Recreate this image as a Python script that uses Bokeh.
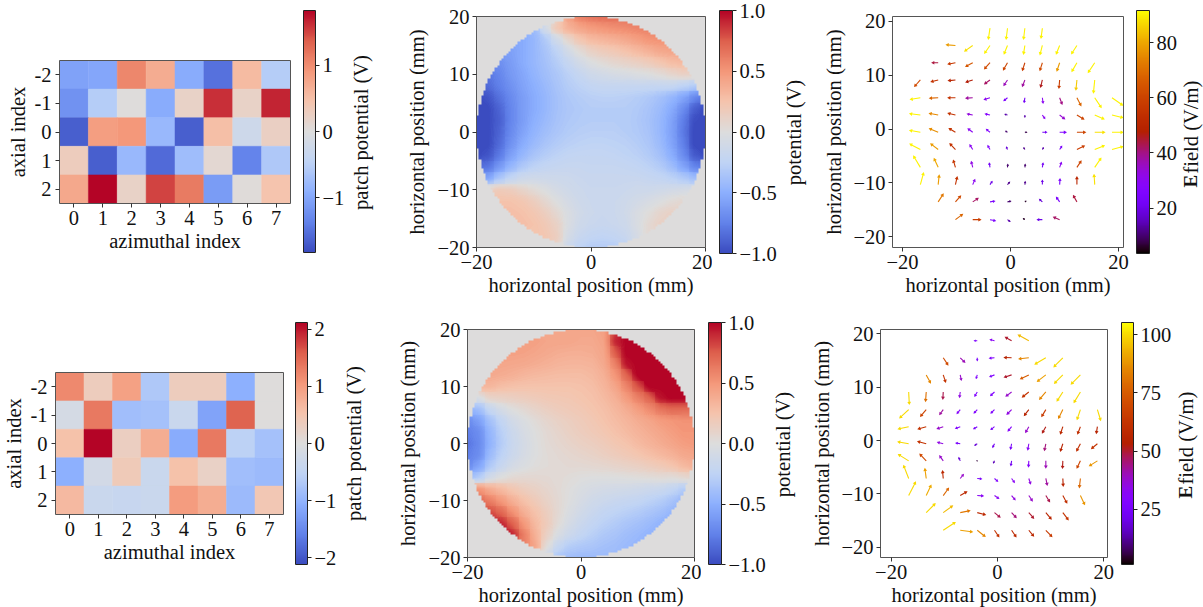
import math
import numpy as np
from bokeh.embed import file_html
from bokeh.resources import INLINE
from bokeh.models import (ColumnDataSource, FixedTicker, Label, LinearAxis, LinearColorMapper, Range1d)
from bokeh.plotting import figure
from bokeh.transform import transform

AZIMUTHAL = [0, 1, 2, 3, 4, 5, 6, 7]
AXIAL = [-2, -1, 0, 1, 2]

PATCH_TOP = [
    [-1.05, -1.0, 1.05, 0.7, -0.95, -1.5, 0.55, -0.55],
    [-1.2, -0.55, 0.02, -0.95, 0.2, 1.6, 0.2, 1.65],
    [-1.65, 0.85, 0.9, -0.8, -1.65, 0.5, -0.25, 0.25],
    [0.3, -1.65, -0.8, -1.55, -0.75, 0.1, -1.35, -0.6],
    [0.75, 1.82, 0.2, 1.5, 1.15, -1.1, 0.03, 0.45],
]
PATCH_BOTTOM = [
    [1.2, 0.35, 0.95, -0.7, 0.35, 0.35, -1.05, 0.03],
    [-0.15, 1.35, -0.85, -0.8, -0.35, -1.2, 1.55, 0.03],
    [0.55, 2.12, 0.3, 0.8, -1.1, 1.35, -0.55, -0.8],
    [-1.05, -0.2, 0.4, -0.35, 0.55, 0.25, -0.85, -0.9],
    [0.65, -0.35, -0.4, -0.35, 1.0, 0.8, -0.9, 0.45],
]

# potential at 2 mm spacing, rows from y=+20 down to y=-20
POT_STEP = 2
POT_GRID = list(range(-20, 21, POT_STEP))
POTENTIAL_TOP = [
    [-.3,-.3,-.3,-.3,-.3,-.3,-.2,.1,.45,.6,.65,.68,.68,.68,.65,.6,.55,.5,.5,.5,.5],
    [-.5,-.5,-.5,-.5,-.5,-.42,-.1,.2,.35,.42,.47,.5,.53,.55,.58,.6,.6,.6,.6,.6,.6],
    [-.55,-.55,-.55,-.55,-.52,-.45,-.32,-.12,.08,.22,.3,.33,.36,.4,.45,.5,.52,.52,.52,.5,.5],
    [-.6,-.6,-.6,-.58,-.52,-.45,-.36,-.25,-.1,.03,.12,.17,.2,.25,.3,.35,.4,.42,.42,.4,.4],
    [-.7,-.7,-.68,-.6,-.52,-.45,-.38,-.3,-.2,-.1,-.02,.03,.07,.1,.13,.17,.22,.28,.3,.3,.3],
    [-.8,-.8,-.72,-.62,-.55,-.47,-.4,-.34,-.27,-.2,-.13,-.1,-.07,-.05,-.03,-.01,.03,.08,.12,.1,.1],
    [-.9,-.85,-.75,-.66,-.57,-.5,-.43,-.36,-.3,-.26,-.22,-.2,-.2,-.2,-.2,-.2,-.2,-.2,-.25,-.3,-.4],
    [-1,-.95,-.82,-.7,-.6,-.52,-.45,-.38,-.33,-.3,-.28,-.27,-.27,-.28,-.3,-.33,-.38,-.45,-.55,-.7,-.85],
    [-1,-1,-.88,-.72,-.6,-.52,-.45,-.38,-.34,-.32,-.3,-.3,-.3,-.3,-.32,-.36,-.42,-.52,-.68,-.9,-1],
    [-1,-1,-.9,-.72,-.6,-.5,-.43,-.37,-.33,-.31,-.3,-.3,-.3,-.3,-.33,-.37,-.44,-.56,-.75,-.98,-1],
    [-1,-1,-.88,-.7,-.57,-.47,-.4,-.35,-.31,-.29,-.28,-.28,-.28,-.3,-.32,-.36,-.44,-.57,-.77,-1,-1],
    [-1,-1,-.85,-.66,-.52,-.43,-.36,-.31,-.28,-.26,-.25,-.25,-.26,-.27,-.3,-.34,-.42,-.55,-.74,-1,-1],
    [-1,-.95,-.78,-.58,-.45,-.36,-.3,-.26,-.23,-.22,-.22,-.22,-.23,-.25,-.27,-.31,-.38,-.5,-.68,-.92,-1],
    [-.85,-.8,-.62,-.45,-.33,-.26,-.22,-.2,-.19,-.19,-.2,-.2,-.2,-.21,-.23,-.26,-.31,-.4,-.55,-.72,-.8],
    [-.6,-.55,-.35,-.22,-.14,-.12,-.13,-.14,-.15,-.17,-.18,-.18,-.18,-.18,-.18,-.2,-.22,-.26,-.32,-.4,-.4],
    [.1,.1,.18,.16,.1,.04,-.02,-.08,-.12,-.15,-.17,-.17,-.17,-.16,-.14,-.14,-.12,-.1,-.08,-.06,-.05],
    [.25,.25,.25,.25,.22,.16,.07,-.01,-.08,-.13,-.16,-.17,-.16,-.13,-.1,-.06,-.02,.03,.06,.06,.06],
    [.3,.3,.3,.28,.26,.22,.15,.06,-.04,-.11,-.15,-.17,-.16,-.12,-.05,.01,.08,.12,.12,.12,.12],
    [.3,.3,.3,.3,.28,.25,.2,.12,-.04,-.13,-.17,-.18,-.17,-.14,-.05,.05,.12,.12,.12,.12,.12],
    [.25,.25,.25,.25,.25,.25,.22,.15,-.08,-.18,-.22,-.24,-.22,-.18,-.08,.05,.1,.1,.1,.1,.1],
    [.2,.2,.2,.2,.2,.2,.2,.1,-.15,-.25,-.3,-.3,-.3,-.25,-.1,.05,.1,.1,.1,.1,.1],
]
POTENTIAL_BOTTOM = [
    [.4,.4,.4,.4,.4,.4,.4,.4,.42,.42,.42,.42,.45,.8,1,1,1,1,1,1,1],
    [.45,.45,.45,.45,.45,.46,.45,.42,.42,.42,.4,.4,.44,.9,1,1,1,1,1,1,1],
    [.45,.45,.45,.45,.45,.44,.42,.4,.38,.37,.37,.38,.42,.75,1,1,1,1,1,1,1],
    [.42,.42,.42,.42,.41,.4,.38,.36,.34,.33,.33,.34,.4,.6,.95,1,1,1,1,1,1],
    [.4,.4,.4,.38,.36,.33,.31,.3,.29,.29,.29,.31,.36,.5,.72,1,1,1,1,1,1],
    [.3,.32,.32,.28,.26,.25,.25,.25,.25,.25,.26,.28,.33,.42,.58,.78,1,1,1,1,1],
    [-.1,-.05,.1,.12,.14,.16,.18,.2,.21,.22,.24,.26,.3,.36,.47,.6,.72,.95,1,1,1],
    [-.5,-.4,-.2,-.08,0,.05,.1,.14,.17,.19,.21,.24,.27,.32,.38,.46,.55,.65,.7,.7,.7],
    [-.7,-.58,-.38,-.22,-.1,-.03,.03,.08,.12,.15,.18,.21,.25,.29,.33,.38,.42,.47,.5,.52,.52],
    [-.75,-.68,-.45,-.28,-.15,-.06,0,.05,.09,.13,.16,.19,.22,.26,.3,.34,.38,.42,.46,.5,.5],
    [-.8,-.7,-.47,-.3,-.17,-.08,-.01,.04,.07,.1,.13,.15,.18,.22,.25,.3,.34,.38,.42,.46,.48],
    [-.75,-.68,-.42,-.26,-.15,-.07,-.01,.03,.05,.07,.09,.11,.14,.17,.2,.23,.27,.31,.35,.4,.42],
    [-.7,-.55,-.32,-.18,-.08,-.03,.01,.03,.04,.05,.05,.06,.07,.09,.11,.13,.16,.19,.23,.3,.35],
    [-.45,-.3,-.1,0,.05,.06,.06,.05,.04,.02,0,-.01,-.01,-.01,0,.01,.02,.03,.02,.05,.1],
    [.5,.5,.38,.3,.22,.16,.12,.08,.04,0,-.04,-.07,-.09,-.1,-.11,-.13,-.15,-.17,-.22,-.3,-.3],
    [.7,.7,.6,.48,.36,.26,.18,.11,.05,-.01,-.07,-.12,-.15,-.18,-.2,-.22,-.26,-.3,-.36,-.45,-.45],
    [.8,.8,.8,.7,.52,.36,.25,.15,.05,-.04,-.11,-.17,-.22,-.25,-.28,-.31,-.35,-.39,-.45,-.5,-.5],
    [.9,.9,.9,.9,.72,.48,.3,.17,.03,-.08,-.16,-.22,-.27,-.31,-.35,-.38,-.42,-.47,-.5,-.5,-.5],
    [.9,.9,.9,.9,.9,.6,.35,.12,-.05,-.15,-.22,-.28,-.33,-.36,-.4,-.43,-.47,-.5,-.5,-.5,-.5],
    [.7,.7,.7,.7,.7,.6,.4,.02,-.2,-.3,-.33,-.35,-.38,-.4,-.43,-.46,-.5,-.5,-.5,-.5,-.5],
    [.5,.5,.5,.5,.5,.4,.2,-.2,-.35,-.4,-.42,-.42,-.42,-.42,-.45,-.48,-.5,-.5,-.5,-.5,-.5],
]

# arrow tails lie on this grid (mm)
ARROW_X = [-19.9, -16.7, -13.4, -10.2, -7.0, -3.8, -0.56, 2.66, 5.9, 9.1, 12.3, 15.6, 18.8]
ARROW_Y = [18.7, 15.5, 12.3, 9.1, 5.8, 2.6, -0.6, -3.8, -7.1, -10.3, -13.5, -16.8]
ARROW_UNIT_MM = 1 / 16  # u and v below are in this unit
# each row: (column in ARROW_X, u, v, |E| in V/m)
ARROWS_TOP = [
    [(5,-5,-33,90),(6,-4,-33,90),(7,-4,-33,90),(8,-4,-30,90)],
    [(3,-27,2,78),(4,-24,-17,88),(5,-16,-23,90),(6,-10,-25,90),(7,-4,-25,90),(8,-7,-27,90),(9,-10,-25,90),(10,-16,-25,90)],
    [(2,-17,0,44),(3,-21,-4,57),(4,-20,-11,65),(5,-16,-18,62),(6,-12,-21,60),(7,-7,-22,58),(8,-7,-22,62),(9,-8,-24,78),(10,-15,-26,90),(11,-20,-30,90)],
    [(1,-17,-19,62),(2,-20,-5,55),(3,-20,-2,50),(4,-19,-6,47),(5,-15,-11,42),(6,-10,-15,36),(7,-7,-18,38),(8,-5,-20,46),(9,-2,-24,58),(10,-3,-30,85),(11,-4,-40,90)],
    [(1,-30,-5,90),(2,-25,-1,68),(3,-21,0,55),(4,-19,-1,38),(5,-16,-5,30),(6,-10,-8,25),(7,-2,-13,22),(8,2,-15,30),(9,7,-18,40),(10,12,-23,68),(11,20,-30,90),(12,33,-23,90)],
    [(1,-32,4,90),(2,-26,5,75),(3,-21,5,55),(4,-15,3,33),(5,-13,3,28),(6,-7,2,14),(7,0,-6,14),(8,7,-10,30),(9,14,-11,34),(10,20,-12,60),(11,28,-12,90),(12,33,-8,90)],
    [(1,-32,6,90),(2,-26,11,76),(3,-18,11,55),(4,-13,10,30),(5,-10,8,26),(6,-5,3,10),(7,5,0,8),(8,12,0,22),(9,18,0,26),(10,25,0,60),(11,30,0,88),(12,33,0,90)],
    [(1,-32,17,90),(2,-22,17,78),(3,-16,17,55),(4,-8,13,30),(5,-6,11,26),(6,-3,7,18),(7,-3,5,12),(8,3,5,14),(9,6,9,24),(10,22,11,58),(11,29,12,90),(12,33,9,90)],
    [(1,-21,35,90),(2,-12,26,80),(3,-6,20,56),(4,-4,16,32),(5,-2,12,22),(6,1,8,10),(7,1,8,10),(8,2,12,22),(9,5,14,30),(10,12,18,60),(11,19,28,90)],
    [(1,10,36,90),(2,3,28,78),(3,5,22,55),(4,6,14,30),(5,6,9,20),(6,6,7,12),(7,1,8,12),(8,0,12,20),(9,1,16,24),(10,0,22,50),(11,-2,30,88)],
    [(2,15,23,72),(3,15,17,62),(4,15,10,42),(5,13,2,24),(6,9,2,10),(7,3,2,6),(8,-8,7,18),(9,-9,13,24),(10,-10,18,44)],
    [(3,21,16,68),(4,23,0,58),(5,15,-3,24),(6,7,-5,14),(7,-4,3,6),(8,-14,0,20),(9,-17,7,42)],
]
ARROWS_BOTTOM = [
    [(5,-8,0,27),(6,-12,3,32),(7,-18,10,50),(8,-33,18,95)],
    [(3,14,-21,70),(4,13,-13,40),(5,0,-8,25),(6,-14,-1,28),(7,-21,1,55),(8,-30,-3,85),(9,-34,-20,100),(10,-28,-28,100)],
    [(2,13,-24,85),(3,7,-21,62),(4,3,-15,38),(5,-3,-10,28),(6,-13,-5,28),(7,-21,-7,50),(8,-25,-12,75),(9,-26,-20,90),(10,-26,-26,100),(11,-29,-29,100)],
    [(1,2,-38,100),(2,-2,-28,80),(3,-1,-20,48),(4,-2,-15,35),(5,-7,-12,28),(6,-11,-10,28),(7,-16,-12,38),(8,-19,-15,62),(9,-19,-22,85),(10,-18,-28,100),(11,-20,-33,100)],
    [(1,-28,-26,100),(2,-17,-20,68),(3,-10,-14,42),(4,-9,-11,30),(5,-9,-10,28),(6,-10,-10,27),(7,-13,-13,35),(8,-13,-17,55),(9,-12,-20,65),(10,-13,-26,85),(11,-10,-30,100),(12,10,-33,100)],
    [(1,-32,-7,100),(2,-24,-7,62),(3,-17,-6,38),(4,-13,-5,28),(5,-10,-6,25),(6,-10,-8,25),(7,-10,-12,30),(8,-9,-16,38),(9,-10,-18,52),(10,-7,-21,58),(11,-8,-21,60),(12,-3,-19,55)],
    [(1,-33,6,100),(2,-25,7,62),(3,-16,4,35),(4,-12,2,25),(5,-7,-4,18),(6,-5,-10,22),(7,-3,-15,25),(8,-3,-17,32),(9,-4,-19,45),(10,-7,-21,55),(11,-11,-21,60),(12,-17,-14,62)],
    [(1,-32,20,100),(2,-19,20,70),(3,-10,14,38),(4,-4,9,18),(5,-1,0,5),(6,-3,-6,15),(7,-2,-13,22),(8,-1,-17,30),(9,0,-20,40),(10,-1,-21,52),(11,-10,-21,68),(12,-24,-15,88)],
    [(1,-16,41,100),(2,-4,30,90),(3,-2,22,58),(4,9,11,38),(5,12,-1,25),(6,9,-8,28),(7,8,-11,32),(8,5,-15,35),(9,4,-19,42),(10,1,-22,55),(11,-3,-27,78)],
    [(1,22,43,100),(2,15,32,92),(3,16,22,78),(4,19,11,58),(5,17,-1,32),(6,12,-8,32),(7,10,-12,35),(8,10,-15,38),(9,11,-18,48),(10,12,-22,60),(11,13,-27,88)],
    [(2,28,28,100),(3,29,21,95),(4,29,6,82),(5,24,-6,58),(6,16,-13,48),(7,13,-14,45),(8,14,-16,50),(9,16,-19,56),(10,16,-21,62)],
    [(3,38,25,100),(4,38,-5,90),(5,24,-19,85),(6,13,-19,62),(7,13,-19,58),(8,14,-17,58),(9,18,-19,65)],
]

# colour-bar limits
LIM_PATCH_TOP = 1.82
LIM_PATCH_BOTTOM = 2.12
LIM_POT = 1.0
LIM_E_TOP = (3.6, 91.6)
LIM_E_BOTTOM = (1.2, 105.3)

FONT = "Liberation Serif"
FS = "20.5px"
GREY = "#dddcdc"
FRAME = "#555555"
MASK_CELLS = 100
DISK_RADIUS = 20
COOL_ANCHORS = [(59,76,192),(98,130,234),(141,176,254),(192,212,245),(221,221,221),
                (245,196,173),(244,152,122),(222,96,77),(180,4,38)]


def coolwarm(n=256):
    out = []
    for i in range(n):
        t = i / (n - 1) * (len(COOL_ANCHORS) - 1)
        k = min(int(t), len(COOL_ANCHORS) - 2)
        f = t - k
        c = [round(COOL_ANCHORS[k][j] * (1 - f) + COOL_ANCHORS[k + 1][j] * f) for j in range(3)]
        out.append("#%02x%02x%02x" % tuple(c))
    return out


def gnuplot():
    out = []
    for i in range(256):
        t = i / 255
        r, g, b = math.sqrt(t), t ** 3, max(0.0, math.sin(2 * math.pi * t))
        out.append("#%02x%02x%02x" % (round(r * 255), round(g * 255), round(b * 255)))
    return out


COOL, GNU = coolwarm(), gnuplot()


def minus(v, fmt="{:g}"):
    return fmt.format(v).replace("-", "\u2212")


class Box:
    """Window pixel rectangle of a figure and of its frame."""
    def __init__(self, left, fl, fr, right, top, ft, fb, bottom):
        self.left, self.fl, self.fr, self.right = left, fl, fr, right
        self.top, self.ft, self.fb, self.bottom = top, ft, fb, bottom


def base(xr, yr, box, y_loc="left"):
    p = figure(width=box.right - box.left, height=box.bottom - box.top,
               frame_width=box.fr - box.fl, frame_height=box.fb - box.ft,
               min_border_left=box.fl - box.left, min_border_right=box.right - box.fr,
               min_border_top=box.ft - box.top, min_border_bottom=box.bottom - box.fb,
               x_range=xr, y_range=yr, toolbar_location=None, output_backend="svg",
               y_axis_location=y_loc, tools="",
               styles={"position": "absolute", "left": f"{box.left}px", "top": f"{box.top}px"})
    p.grid.visible = False
    p.outline_line_color = None
    p.background_fill_color = "white"
    p.border_fill_color = None
    return p


def style_axis(ax, label=None, standoff=3, lab_standoff=2, line=FRAME):
    ax.major_label_text_font = FONT
    ax.major_label_text_font_size = FS
    ax.major_label_text_color = "#111111"
    ax.axis_label_text_font = FONT
    ax.axis_label_text_font_size = FS
    ax.axis_label_text_font_style = "normal"
    ax.axis_label_text_color = "#111111"
    ax.axis_line_color = line
    ax.axis_line_width = 1
    ax.major_tick_line_color = "#333333"
    ax.major_tick_out = 4
    ax.major_tick_in = 0
    ax.minor_tick_line_color = None
    ax.major_label_standoff = standoff
    ax.axis_label_standoff = lab_standoff
    if label:
        ax.axis_label = label


def side_frame(p, sides, line=FRAME):
    for side in sides:
        ax = LinearAxis(ticker=FixedTicker(ticks=[]), axis_line_color=line, axis_line_width=1,
                        major_tick_line_color=None, minor_tick_line_color=None,
                        major_label_text_color=None)
        p.add_layout(ax, side)


def set_ticks(ax, ticks, fmt="{:g}"):
    ax.ticker = FixedTicker(ticks=list(ticks))
    ax.major_label_overrides = {t: minus(t, fmt) for t in ticks}


def heatmap(values, lim, box):
    p = base(Range1d(-0.5, 7.5), Range1d(2.5, -2.5), box)
    xs, ys, vs = [], [], []
    for j, a in enumerate(AXIAL):
        for i, z in enumerate(AZIMUTHAL):
            xs.append(z)
            ys.append(a)
            vs.append(values[j][i])
    mapper = LinearColorMapper(palette=COOL, low=-lim, high=lim)
    p.rect(x="x", y="y", width=1, height=1, source=ColumnDataSource(dict(x=xs, y=ys, v=vs)),
           fill_color=transform("v", mapper), line_color=transform("v", mapper), line_width=0.5)
    style_axis(p.xaxis[0], "azimuthal index")
    style_axis(p.yaxis[0], "axial index", standoff=4)
    p.xaxis[0].ticker = FixedTicker(ticks=AZIMUTHAL)
    p.yaxis[0].ticker = FixedTicker(ticks=AXIAL)
    p.yaxis[0].major_label_overrides = {a: str(a) for a in AXIAL}
    side_frame(p, ["above", "right"])
    return p


def v_labels(strip_left, strip_right, top, bottom, items):
    """A transparent strip of the page holding upward-reading labels.
    Each item: text, window x of text centre, window y of anchor, align, font style, size."""
    w, h = strip_right - strip_left, bottom - top
    p = figure(width=w, height=h, frame_width=w, frame_height=h,
               min_border_left=0, min_border_right=0, min_border_top=0, min_border_bottom=0,
               x_range=Range1d(0, w), y_range=Range1d(0, h), toolbar_location=None, output_backend="svg",
               tools="", styles={"position": "absolute", "left": f"{strip_left}px", "top": f"{top}px"})
    p.axis.visible = False
    p.grid.visible = False
    p.outline_line_color = None
    p.background_fill_color = None
    p.border_fill_color = None
    for text, wx, wy, align, style, size in items:
        p.add_layout(Label(x=wx - strip_left, y=bottom - wy, x_units="screen", y_units="screen", text=text,
                           angle=math.pi / 2, text_font=FONT, text_font_size=size, text_font_style=style,
                           text_color="#111111", text_align=align, text_baseline="alphabetic"))
    return p


def colorbar(low, high, palette, ticks, box, fmt="{:g}"):
    p = base(Range1d(0, 1), Range1d(low, high), box, y_loc="right")
    p.xaxis.visible = False
    grad = np.linspace(low, high, 256).reshape(256, 1)
    mapper = LinearColorMapper(palette=palette, low=low, high=high)
    p.image(image=[grad], x=0, y=low, dw=1, dh=high - low, color_mapper=mapper)
    ax = p.yaxis[0]
    style_axis(ax, None, standoff=3, line="#222222")
    ax.major_tick_line_color = "#222222"
    set_ticks(ax, ticks, fmt)
    side_frame(p, ["above", "below", "left"], line="#222222")
    return p


def potential_map(rows, box):
    half = POT_STEP / 2
    lo, hi = POT_GRID[0], POT_GRID[-1]
    p = base(Range1d(lo, hi), Range1d(lo, hi), box)
    mapper = LinearColorMapper(palette=COOL, low=-LIM_POT, high=LIM_POT)
    z = np.array(rows, dtype=float)[::-1]
    span = hi - lo + POT_STEP
    # flat cells underneath, so that no seam between contour bands shows white
    p.image(image=[z], x=lo - half, y=lo - half, dw=span, dh=span, color_mapper=mapper)
    levels = list(np.linspace(-LIM_POT - 0.001, LIM_POT + 0.001, 129))
    p.contour(POT_GRID, POT_GRID, z, levels, fill_color=coolwarm(128), line_color=None)
    # grey outside the disk, in square cells as in the reference
    centres = lo + (np.arange(MASK_CELLS) + 0.5) * (hi - lo) / MASK_CELLS
    cx, cy = np.meshgrid(centres, centres)
    outside = (np.hypot(cx, cy) > DISK_RADIUS).astype(float)
    p.image(image=[outside], x=lo, y=lo, dw=hi - lo, dh=hi - lo,
            color_mapper=LinearColorMapper(palette=["#00000000", GREY], low=0, high=1))
    style_axis(p.xaxis[0], "horizontal position (mm)")
    style_axis(p.yaxis[0], "horizontal position (mm)", standoff=3, lab_standoff=6)
    set_ticks(p.xaxis[0], [-20, 0, 20])
    set_ticks(p.yaxis[0], [-20, -10, 0, 10, 20])
    side_frame(p, ["above", "right"])
    return p


def quiver(rows, lims, xr, yr, box):
    p = base(Range1d(*xr), Range1d(*yr), box)
    x0, y0, x1, y1, hx, hy, ang, size, e = [], [], [], [], [], [], [], [], []
    for j, r in enumerate(rows):
        for col, u, v, mag in r:
            du, dv = u * ARROW_UNIT_MM, v * ARROW_UNIT_MM
            x0.append(ARROW_X[col])
            y0.append(ARROW_Y[j])
            x1.append(ARROW_X[col] + 0.9 * du)
            y1.append(ARROW_Y[j] + 0.9 * dv)
            hx.append(ARROW_X[col] + 0.86 * du)
            hy.append(ARROW_Y[j] + 0.86 * dv)
            ang.append(math.atan2(dv, du) - math.pi / 2)
            size.append(min(3.8, 1.5 + math.hypot(du, dv) * 2))
            e.append(mag)
    mapper = LinearColorMapper(palette=GNU, low=lims[0], high=lims[1])
    src = ColumnDataSource(dict(x0=x0, y0=y0, x1=x1, y1=y1, hx=hx, hy=hy, ang=ang, size=size, e=e))
    p.segment("x0", "y0", "x1", "y1", source=src, line_color=transform("e", mapper), line_width=1.1)
    p.scatter("hx", "hy", marker="triangle", angle="ang", size="size", source=src,
              fill_color=transform("e", mapper), line_color=None)
    style_axis(p.xaxis[0], "horizontal position (mm)")
    style_axis(p.yaxis[0], "horizontal position (mm)", standoff=3, lab_standoff=5)
    set_ticks(p.xaxis[0], [-20, 0, 20])
    set_ticks(p.yaxis[0], [-20, -10, 0, 10, 20])
    side_frame(p, ["above", "right"])
    return p


# ---- top row (window pixels)
BOX_A = Box(0, 59, 290, 297, 0, 60, 203, 305)
BOX_ACB = Box(297, 303, 315, 408, 0, 10, 252, 305)
BOX_B = Box(388, 476, 705, 712, 0, 16, 247, 305)
BOX_BCB = Box(712, 719, 732, 825, 0, 10, 253, 305)
BOX_C = Box(805, 892, 1123, 1130, 0, 16, 247, 305)
BOX_CCB = Box(1130, 1136, 1149, 1203, 0, 10, 253, 305)
# ---- bottom row
BOX_D = Box(0, 53, 281, 288, 305, 372, 514, 607)
BOX_DCB = Box(288, 295, 307, 400, 305, 322, 564, 607)
BOX_E = Box(380, 467, 694, 701, 305, 329, 557, 607)
BOX_ECB = Box(701, 708, 721, 815, 305, 322, 564, 607)
BOX_F = Box(795, 880, 1107, 1114, 305, 329, 557, 607)
BOX_FCB = Box(1114, 1121, 1133, 1203, 305, 322, 564, 607)

a = heatmap(PATCH_TOP, LIM_PATCH_TOP, BOX_A)
acb = colorbar(-LIM_PATCH_TOP, LIM_PATCH_TOP, COOL, [-1, 0, 1], BOX_ACB)
alab = v_labels(345, 378, 0, 305, [("patch potential (V)", 360, 132, "center", "normal", FS)])
b = potential_map(POTENTIAL_TOP, BOX_B)
bcb = colorbar(-LIM_POT, LIM_POT, COOL, [-1, -.5, 0, .5, 1], BOX_BCB, "{:.1f}")
blab = v_labels(778, 808, 0, 305, [("potential (V)", 793, 132, "center", "normal", FS)])
c = quiver(ARROWS_TOP, LIM_E_TOP, (-21.86, 20.93), (-21.96, 20.87), BOX_C)
ccb = colorbar(LIM_E_TOP[0], LIM_E_TOP[1], GNU, [20, 40, 60, 80], BOX_CCB)
clab = v_labels(1172, 1203, 0, 305, [("E", 1190, 187, "left", "bold", "19px"),
                                     ("field (V/m)", 1190, 173, "left", "normal", FS)])

d = heatmap(PATCH_BOTTOM, LIM_PATCH_BOTTOM, BOX_D)
dcb = colorbar(-LIM_PATCH_BOTTOM, LIM_PATCH_BOTTOM, COOL, [-2, -1, 0, 1, 2], BOX_DCB)
dlab = v_labels(338, 369, 305, 607, [("patch potential (V)", 353, 443, "center", "normal", FS)])
e = potential_map(POTENTIAL_BOTTOM, BOX_E)
ecb = colorbar(-LIM_POT, LIM_POT, COOL, [-1, -.5, 0, .5, 1], BOX_ECB, "{:.1f}")
elab = v_labels(767, 797, 305, 607, [("potential (V)", 782, 444, "center", "normal", FS)])
f = quiver(ARROWS_BOTTOM, LIM_E_BOTTOM, (-22.0, 20.7), (-21.9, 20.8), BOX_F)
fcb = colorbar(LIM_E_BOTTOM[0], LIM_E_BOTTOM[1], GNU, [25, 50, 75, 100], BOX_FCB)
flab = v_labels(1167, 1203, 305, 607, [("E", 1185, 498, "left", "bold", "19px"),
                                       ("field (V/m)", 1185, 484, "left", "normal", FS)])

open("out.html", "w").write(file_html(
    [a, acb, alab, b, bcb, blab, c, ccb, clab, d, dcb, dlab, e, ecb, elab, f, fcb, flab], INLINE))
